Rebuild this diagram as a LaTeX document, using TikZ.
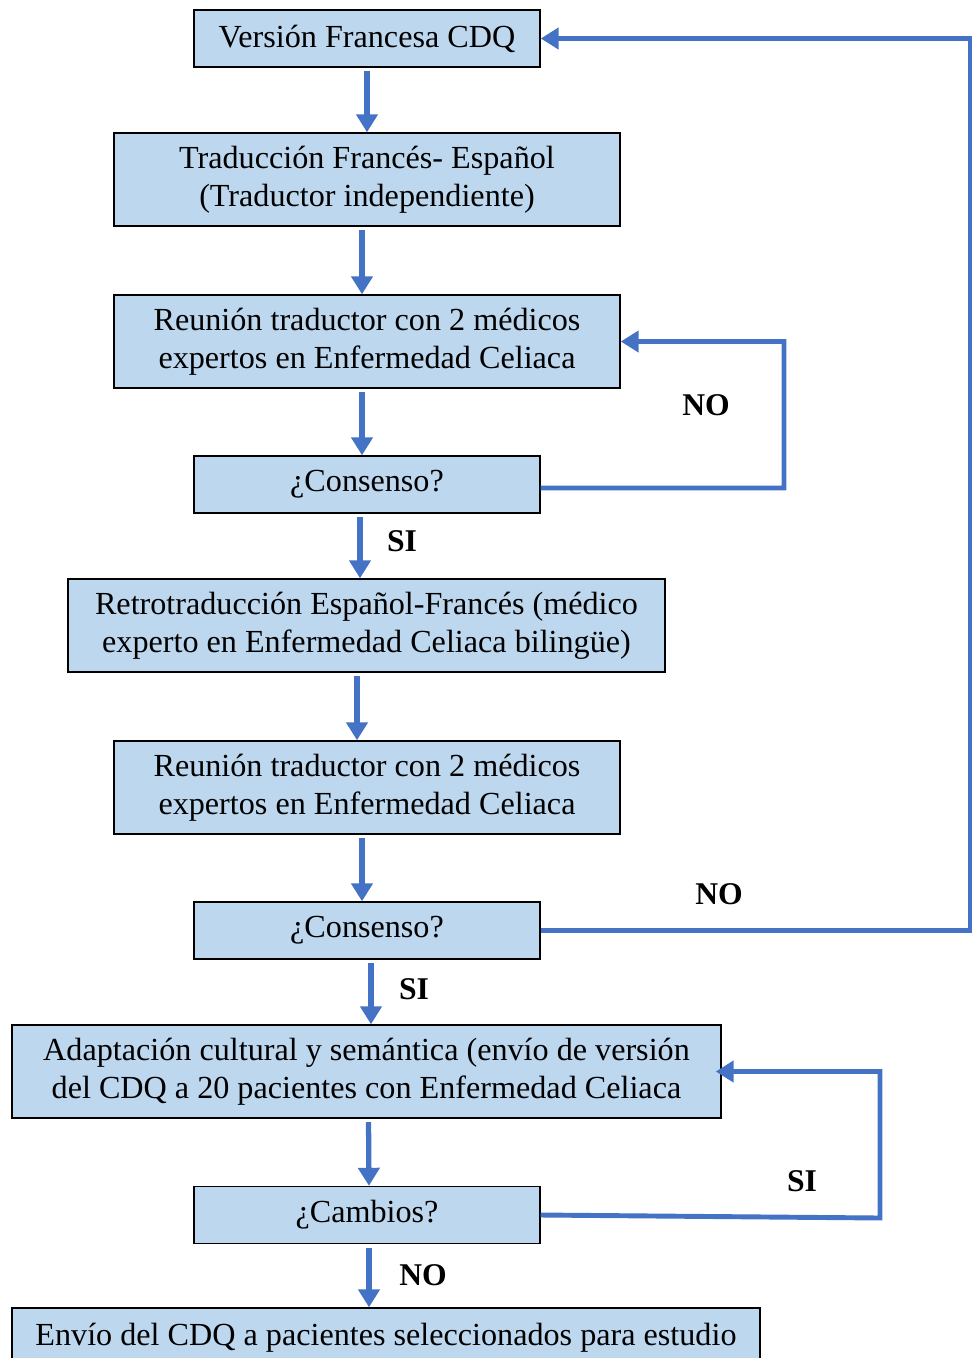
\documentclass[tikz,border=0pt]{standalone}
\usepackage{fontspec}
\setmainfont{Liberation Serif}
\usepackage{tikz}
\usetikzlibrary{arrows.meta,positioning,calc}
\definecolor{boxblue}{RGB}{189,215,238}
\definecolor{linkblue}{RGB}{68,114,196}
\tikzset{
  box/.style={draw=black, fill=boxblue, line width=0.8pt, align=center, inner sep=2pt, font=\fontsize{18.3}{21.5}\selectfont},
  flow/.style={-{Triangle[length=3.6mm,width=4.2mm]}, draw=linkblue, line width=3pt},
  loop/.style={-{Triangle[length=3.6mm,width=4.2mm]}, draw=linkblue, line width=2.8pt},
  answer/.style={font=\fontsize{18}{21.5}\selectfont\bfseries}
}

\begin{document}
\begin{tikzpicture}[x=0.2mm,y=-0.2mm]
\useasboundingbox (0,0) rectangle (974,1358);
% steps
\node[box, minimum width=69.2mm, minimum height=11.4mm] (frances) at (367,38.5) {Versión Francesa CDQ};
\node[box, minimum width=101.2mm, minimum height=18.6mm] (traduccion) at (367,179.5) {Traducción Francés- Español\\(Traductor independiente)};
\node[box, minimum width=101.2mm, minimum height=18.6mm] (reunionA) at (367,341.5) {Reunión traductor con 2 médicos\\expertos en Enfermedad Celiaca};
\node[box, minimum width=69.2mm, minimum height=11.4mm] (consensoA) at (367,484.5) {¿Consenso?};
\node[box, minimum width=119.4mm, minimum height=18.6mm] (retro) at (366.5,625.5) {Retrotraducción Español-Francés (médico\\experto en Enfermedad Celiaca bilingüe)};
\node[box, minimum width=101.2mm, minimum height=18.6mm] (reunionB) at (367,787.5) {Reunión traductor con 2 médicos\\expertos en Enfermedad Celiaca};
\node[box, minimum width=69.2mm, minimum height=11.4mm] (consensoB) at (367,930.5) {¿Consenso?};
\node[box, minimum width=141.8mm, minimum height=18.6mm] (adaptacion) at (366.5,1071.5) {Adaptación cultural y semántica (envío de versión\\del CDQ a 20 pacientes con Enfermedad Celiaca};
\node[box, minimum width=69.2mm, minimum height=11.4mm] (cambios) at (367,1215) {¿Cambios?};
\node[box, minimum width=149.6mm, minimum height=12mm] (envio) at (386,1338) {Envío del CDQ a pacientes seleccionados para estudio};
% main flow
\draw[flow, shorten <=2pt] (frances) -- (traduccion);
\draw[flow, shorten <=2pt] ([xshift=-1mm]traduccion.south) -- ([xshift=-1mm]reunionA.north);
\draw[flow, shorten <=2pt] ([xshift=-1mm]reunionA.south) -- ([xshift=-1mm]consensoA.north);
\draw[flow, shorten <=2pt] ([xshift=-1.4mm]consensoA.south) -- ([xshift=-1.4mm]consensoA.south |- retro.north);
\draw[flow, shorten <=2pt] ([xshift=-1.9mm]retro.south) -- ([xshift=-1.9mm]retro.south |- reunionB.north);
\draw[flow, shorten <=2pt] ([xshift=-1mm]reunionB.south) -- ([xshift=-1mm]consensoB.north);
\draw[flow, shorten <=2pt] ([xshift=0.8mm]consensoB.south) -- ([xshift=0.8mm]consensoB.south |- adaptacion.north);
\draw[flow, shorten <=2pt] ([xshift=0.4mm]adaptacion.south) -- ([xshift=0.4mm]cambios.north);
\draw[flow, shorten <=2pt] ([xshift=0.4mm]cambios.south) -- ([xshift=0.4mm]cambios.south |- envio.north);
% feedback loops
\coordinate (loopA) at (784,488);
\coordinate (loopB) at (970,930.5);
\coordinate (loopC) at (880,1218);
\draw[loop] ([yshift=-0.7mm]consensoA.east) -- (loopA) |- (reunionA.east);
\draw[loop] (consensoB.east) -- (loopB) |- (frances.east);
\draw[loop] (cambios.east) -- (loopC) |- ([xshift=-1.2mm]adaptacion.east);
% answers
\node[answer] (siA) at (402,541) {SI};
\node[answer] (noA) at (706,405) {NO};
\node[answer] (siB) at (414,989) {SI};
\node[answer] (noB) at (719,894) {NO};
\node[answer] (siC) at (802,1181) {SI};
\node[answer] (noC) at (423,1275) {NO};
\end{tikzpicture}
\end{document}
